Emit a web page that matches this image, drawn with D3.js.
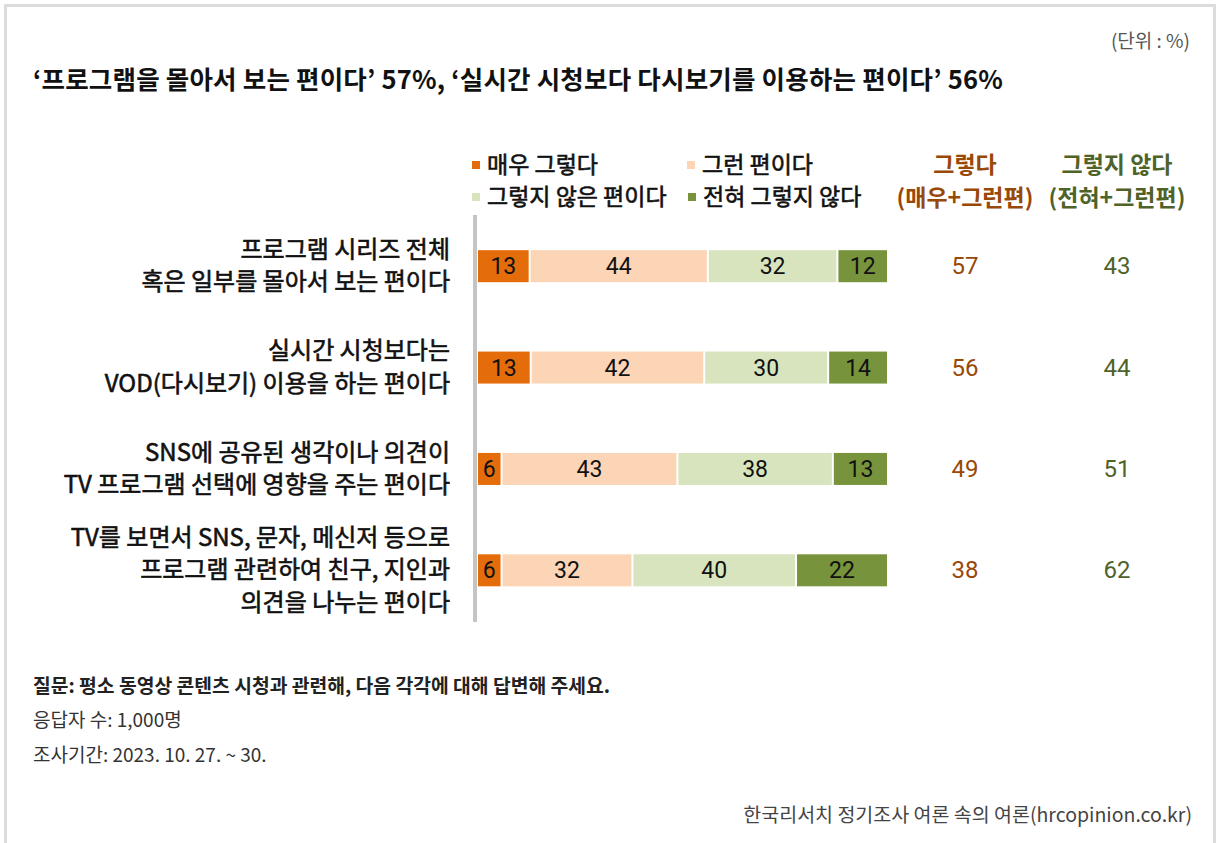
<!DOCTYPE html>
<html>
<head>
<meta charset="utf-8">
<script src="https://cdn.jsdelivr.net/npm/d3@7"></script>
<style>
  body { margin: 0; background: #fff; }
  svg { display: block; font-family: "Noto Sans CJK KR", "Noto Sans", sans-serif; }
</style>
</head>
<body>
<div id="chart"></div>
<script>
// rows, top to bottom
const categories = [
  ["프로그램 시리즈 전체", "혹은 일부를 몰아서 보는 편이다"],
  ["실시간 시청보다는", "VOD(다시보기) 이용을 하는 편이다"],
  ["SNS에 공유된 생각이나 의견이", "TV 프로그램 선택에 영향을 주는 편이다"],
  ["TV를 보면서 SNS, 문자, 메신저 등으로", "프로그램 관련하여 친구, 지인과", "의견을 나누는 편이다"]
];
const seriesNames = ["매우 그렇다", "그런 편이다", "그렇지 않은 편이다", "전혀 그렇지 않다"];
const veryYes = [13, 13, 6, 6];
const rather = [44, 42, 43, 32];
const ratherNot = [32, 30, 38, 40];
const notAtAll = [12, 14, 13, 22];
const agreeTotal = [57, 56, 49, 38];
const disagreeTotal = [43, 44, 51, 62];

const colors = ["#E46C0A", "#FBD5B5", "#D7E4BD", "#77933C"];
const agreeColor = "#984807";
const disagreeColor = "#4F6228";

let w = 1221, h = 843;

const svg = d3.select("#chart").append("svg")
  .attr("width", w)
  .attr("height", h);

// frame
svg.append("rect")
  .attr("x", 5.5).attr("y", 5.5)
  .attr("width", 1209).attr("height", 860)
  .attr("fill", "none")
  .attr("stroke", "#dcdcdc")
  .attr("stroke-width", 3);

svg.append("text")
  .attr("x", 1190).attr("y", 48)
  .attr("text-anchor", "end")
  .attr("font-size", 19)
  .attr("fill", "#555")
  .text("(단위 : %)");

svg.append("text")
  .attr("x", 33).attr("y", 89)
  .attr("font-size", 25.5)
  .attr("font-weight", 700)
  .attr("letter-spacing", 0.2)
  .attr("fill", "#111")
  .text("‘프로그램을 몰아서 보는 편이다’ 57%, ‘실시간 시청보다 다시보기를 이용하는 편이다’ 56%");

// stack data, each row normalised to 100
let rows = categories.map((c, i) => {
  let vals = [veryYes[i], rather[i], ratherNot[i], notAtAll[i]];
  let sum = d3.sum(vals);
  let acc = 0;
  let segs = vals.map((v, k) => {
    let s = { k: k, v: v, x0: acc / sum * 100, x1: (acc + v) / sum * 100 };
    acc += v;
    return s;
  });
  return { i: i, label: c, segs: segs };
});

let xScale = d3.scaleLinear().domain([0, 100]).range([478, 887]);
let yScale = d3.scaleBand().domain(d3.range(categories.length)).range([215.5, 621]);
let barH = 32;

// axis line
svg.append("rect")
  .attr("x", 473).attr("y", 215)
  .attr("width", 4).attr("height", 407)
  .attr("fill", "#c4c4c4");

const rowG = svg.selectAll("g.row")
  .data(rows)
  .enter()
  .append("g")
  .attr("class", "row")
  .attr("transform", d => "translate(0," + (yScale(d.i) + yScale.bandwidth() / 2) + ")");

rowG.selectAll("rect")
  .data(d => d.segs)
  .enter()
  .append("rect")
  .attr("x", d => xScale(d.x0))
  .attr("y", -barH / 2)
  .attr("width", d => Math.max(0, xScale(d.x1) - xScale(d.x0) - (d.k < 3 ? 2 : 0)))
  .attr("height", barH)
  .attr("fill", d => colors[d.k]);

rowG.selectAll("text.val")
  .data(d => d.segs)
  .enter()
  .append("text")
  .attr("class", "val")
  .attr("x", d => (xScale(d.x0) + xScale(d.x1) - (d.k < 3 ? 2 : 0)) / 2)
  .attr("y", 8)
  .attr("text-anchor", "middle")
  .attr("font-family", "Roboto, sans-serif")
  .attr("font-size", 23)
  .attr("fill", "#111")
  .text(d => d.v);

// category labels (regular + thin stroke, reads like a medium weight)
rowG.each(function (d) {
  let n = d.label.length;
  let t = d3.select(this).append("text")
    .attr("text-anchor", "end")
    .attr("font-size", 24)
    .attr("fill", "#111")
    .attr("stroke", "#111")
    .attr("stroke-width", 0.6);
  d.label.forEach((line, j) => {
    t.append("tspan")
      .attr("x", 450)
      .attr("y", (j - (n - 1) / 2) * 32.5 + 8)
      .text(line);
  });
});

// totals
rowG.append("text")
  .attr("x", 965).attr("y", 8)
  .attr("text-anchor", "middle")
  .attr("font-family", "Roboto, sans-serif")
  .attr("font-size", 24)
  .attr("fill", agreeColor)
  .text(d => agreeTotal[d.i]);

rowG.append("text")
  .attr("x", 1117).attr("y", 8)
  .attr("text-anchor", "middle")
  .attr("font-family", "Roboto, sans-serif")
  .attr("font-size", 24)
  .attr("fill", disagreeColor)
  .text(d => disagreeTotal[d.i]);

// legend
let legendPos = [[472, 165], [687, 165], [472, 197], [688, 197]];
const legend = svg.append("g").attr("id", "legend");
seriesNames.forEach((name, k) => {
  legend.append("rect")
    .attr("x", legendPos[k][0]).attr("y", legendPos[k][1] - 4)
    .attr("width", 8).attr("height", 8)
    .attr("fill", colors[k]);
  legend.append("text")
    .attr("x", legendPos[k][0] + 15).attr("y", legendPos[k][1] + 8)
    .attr("font-size", 23)
    .attr("fill", "#111")
    .attr("stroke", "#111")
    .attr("stroke-width", 0.6)
    .text(name);
});

// total headers
[["그렇다", "(매우+그런편)", 965, agreeColor], ["그렇지 않다", "(전혀+그런편)", 1117, disagreeColor]].forEach(hd => {
  svg.append("text")
    .attr("x", hd[2]).attr("y", 173)
    .attr("text-anchor", "middle")
    .attr("font-size", 23).attr("font-weight", 700)
    .attr("fill", hd[3])
    .text(hd[0]);
  svg.append("text")
    .attr("x", hd[2]).attr("y", 206)
    .attr("text-anchor", "middle")
    .attr("font-size", 23).attr("font-weight", 700)
    .attr("fill", hd[3])
    .text(hd[1]);
});

// footer
svg.append("text")
  .attr("x", 33).attr("y", 693)
  .attr("font-size", 19.3).attr("font-weight", 700)
  .attr("fill", "#222")
  .text("질문: 평소 동영상 콘텐츠 시청과 관련해, 다음 각각에 대해 답변해 주세요.");
svg.append("text")
  .attr("x", 33).attr("y", 727)
  .attr("font-size", 19)
  .attr("fill", "#333")
  .text("응답자 수: 1,000명");
svg.append("text")
  .attr("x", 33).attr("y", 762)
  .attr("font-size", 19)
  .attr("fill", "#333")
  .text("조사기간: 2023. 10. 27. ~ 30.");
svg.append("text")
  .attr("x", 1192).attr("y", 822)
  .attr("text-anchor", "end")
  .attr("font-size", 19.5)
  .attr("fill", "#444")
  .text("한국리서치 정기조사 여론 속의 여론(hrcopinion.co.kr)");
</script>
</body>
</html>
